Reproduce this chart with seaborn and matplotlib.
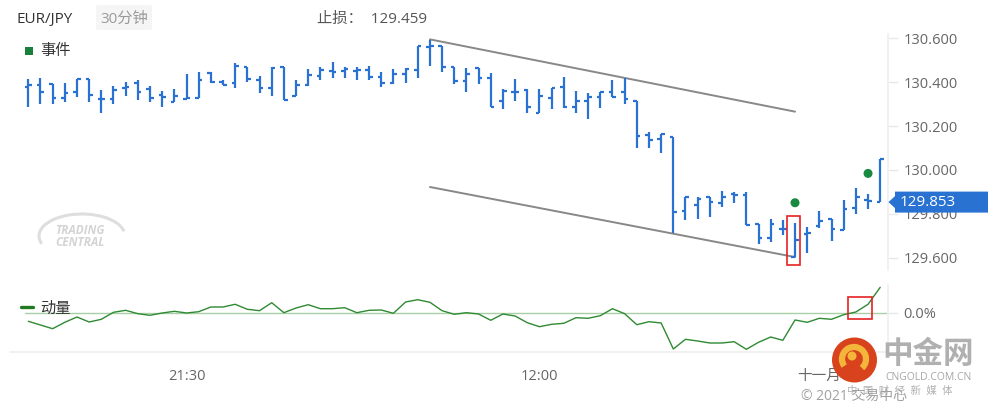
import matplotlib
matplotlib.use("Agg")
import matplotlib.pyplot as plt
import matplotlib.patches as mpatches
import matplotlib.transforms as mtransforms
import numpy as np
import seaborn as sns

# ---------------- data ----------------
symbol = "EUR/JPY"
timeframe = "30分钟"
stop_loss = 129.459
last_price = 129.853

opens = [130.377, 130.389, 130.391, 130.327, 130.354, 130.415, 130.325, 130.325, 130.375, 130.395,
         130.369, 130.343, 130.310, 130.322, 130.327, 130.444, 130.400, 130.395, 130.471, 130.411,
         130.375, 130.469, 130.336, 130.388, 130.427, 130.452, 130.452, 130.453, 130.455, 130.426,
         130.397, 130.439, 130.456, 130.561, 130.567, 130.471, 130.405, 130.464, 130.418, 130.313,
         130.354, 130.366, 130.258, 130.327, 130.379, 130.289, 130.316, 130.334, 130.354, 130.354,
         130.313, 130.159, 130.141, 130.149, 129.814, 129.838, 129.875, 129.848, 129.890, 129.885,
         129.753, 129.688, 129.732, 129.601, 129.707, 129.744, 129.777, 129.726, 129.825, 129.863,
         129.853]
highs = [130.415, 130.418, 130.391, 130.395, 130.415, 130.415, 130.365, 130.383, 130.400, 130.411,
         130.383, 130.360, 130.369, 130.437, 130.446, 130.446, 130.411, 130.487, 130.471, 130.430,
         130.471, 130.469, 130.411, 130.461, 130.469, 130.491, 130.469, 130.469, 130.473, 130.446,
         130.461, 130.465, 130.567, 130.593, 130.567, 130.471, 130.464, 130.464, 130.441, 130.368,
         130.415, 130.371, 130.368, 130.373, 130.423, 130.359, 130.350, 130.357, 130.411, 130.418,
         130.313, 130.174, 130.163, 130.149, 129.878, 129.878, 129.875, 129.905, 129.900, 129.900,
         129.753, 129.776, 129.771, 129.756, 129.738, 129.814, 129.777, 129.863, 129.916, 129.890,
         130.048]
lows = [130.289, 130.300, 130.300, 130.309, 130.334, 130.309, 130.258, 130.300, 130.339, 130.319,
        130.309, 130.289, 130.310, 130.322, 130.327, 130.395, 130.388, 130.373, 130.403, 130.350,
        130.339, 130.318, 130.336, 130.385, 130.409, 130.418, 130.421, 130.409, 130.409, 130.380,
        130.391, 130.398, 130.418, 130.476, 130.448, 130.392, 130.357, 130.391, 130.286, 130.279,
        130.316, 130.258, 130.258, 130.279, 130.283, 130.258, 130.231, 130.281, 130.332, 130.301,
        130.099, 130.100, 130.079, 129.711, 129.771, 129.777, 129.786, 129.829, 129.848, 129.748,
        129.660, 129.672, 129.703, 129.601, 129.619, 129.733, 129.677, 129.726, 129.799, 129.820,
        129.853]
closes = [130.388, 130.356, 130.327, 130.353, 130.414, 130.341, 130.322, 130.365, 130.380, 130.357,
          130.327, 130.334, 130.336, 130.327, 130.411, 130.403, 130.388, 130.476, 130.414, 130.373,
          130.467, 130.318, 130.388, 130.433, 130.458, 130.448, 130.459, 130.455, 130.426, 130.398,
          130.437, 130.461, 130.567, 130.567, 130.469, 130.405, 130.437, 130.418, 130.289, 130.359,
          130.357, 130.286, 130.337, 130.373, 130.289, 130.313, 130.332, 130.354, 130.334, 130.322,
          130.155, 130.137, 130.163, 129.809, 129.875, 129.866, 129.853, 129.878, 129.887, 129.748,
          129.688, 129.753, 129.732, 129.680, 129.711, 129.768, 129.729, 129.820, 129.875, 129.858,
          130.048]
momentum = [-0.088, -0.125, -0.162, -0.098, -0.045, -0.095, -0.068, 0.002, 0.022, -0.012,
            -0.028, -0.005, 0.012, -0.005, 0.008, 0.055, 0.055, 0.082, 0.032, 0.018,
            0.098, -0.002, 0.045, 0.078, 0.038, 0.038, 0.048, -0.002, 0.022, 0.025,
            -0.008, 0.105, 0.128, 0.102, 0.018, -0.018, -0.002, -0.015, -0.078, -0.015,
            -0.035, -0.102, -0.142, -0.118, -0.108, -0.052, -0.058, -0.032, 0.038, -0.012,
            -0.122, -0.092, -0.105, -0.365, -0.268, -0.285, -0.305, -0.305, -0.292, -0.368,
            -0.298, -0.245, -0.278, -0.075, -0.098, -0.058, -0.068, -0.022, 0.005, 0.082,
            0.252]

event_bars = [63, 69]
event_prices = [129.850, 129.984]
channel_bars = [33, 63]
channel_upper = [130.596, 130.266]
channel_lower = [129.922, 129.602]
price_ticks = [129.6, 129.8, 130.0, 130.2, 130.4, 130.6]
time_tick_bars = [13, 42, 65]
time_tick_labels = ["21:30", "12:00", "十一月"]
highlight_price = (62.35, 63.42, 129.565, 129.790)
highlight_momentum = (67.35, 69.33, -0.068, 0.152)

# ---------------- style ----------------
sns.set_theme(style="white")
plt.rcParams["font.family"] = ["Open Sans", "Noto Sans CJK SC", "DejaVu Sans"]

BAR = "#2a72d2"
GREEN = "#2f8a33"
W, H = 988, 409

fig = plt.figure(figsize=(W / 100, H / 100), dpi=100)
fig.patch.set_facecolor("white")


def fx(x):
    return x / W


def fy(y):
    return 1 - y / H


def axes_rect(x0, y0, x1, y1):
    return [fx(x0), fy(y1), (x1 - x0) / W, (y1 - y0) / H]


idx = np.arange(len(opens))

# ---------------- price panel ----------------
ax = fig.add_axes(axes_rect(10, 34, 888, 270))
ax.set_facecolor("none")
ax.set_xlim(-1.504, 70.64)
ax.set_ylim(129.543, 130.6205)

ax.vlines(idx, lows, highs, color=BAR, lw=1.6, zorder=3)
ax.hlines(opens, idx - 0.3, idx, color=BAR, lw=1.6, zorder=3)
ax.hlines(closes, idx, idx + 0.3, color=BAR, lw=1.6, zorder=3)

ax.plot(channel_bars, channel_upper, color="#888888", lw=1.4, zorder=2)
ax.plot(channel_bars, channel_lower, color="#888888", lw=1.4, zorder=2)

sns.scatterplot(x=event_bars, y=event_prices, ax=ax, color="#178a3f", s=42,
                edgecolor="none", zorder=4, legend=False)

x0, x1, y0, y1 = highlight_price
ax.add_patch(mpatches.Rectangle((x0, y0), x1 - x0, y1 - y0, fill=False,
                                ec="#e52222", lw=1.2, zorder=5))

for s in ["left", "top", "bottom"]:
    ax.spines[s].set_visible(False)
ax.spines["right"].set_color("#f0f0f0")
ax.yaxis.tick_right()
ax.set_yticks(price_ticks)
ax.set_yticklabels([f"{v:.3f}" for v in price_ticks])
ax.tick_params(axis="y", length=7, width=1, color="#e8e8e8",
               labelcolor="#666666", labelsize=10.5, pad=4)
ax.set_xticks([])
ax.set_xlabel("")
ax.set_ylabel("")

# last price tag on the right axis
blend = mtransforms.blended_transform_factory(fig.transFigure, ax.transData)
hh = 10.5 / 219
ah = 6 / 219
tag = mpatches.Polygon(
    [(fx(888.5), last_price), (fx(895), last_price + ah), (fx(895), last_price + hh),
     (fx(988), last_price + hh), (fx(988), last_price - hh), (fx(895), last_price - hh),
     (fx(895), last_price - ah)],
    closed=True, transform=blend, fc="#2a72d2", ec="none", zorder=10, clip_on=False)
fig.patches.append(tag)
tag_text = fig.text(fx(900), 0, f"{last_price:.3f}", transform=blend, color="white",
                    fontsize=11, va="center", ha="left", zorder=11)
tag_text.set_y(last_price)

# ---------------- momentum panel ----------------
axm = fig.add_axes(axes_rect(10, 285, 888, 352))
axm.set_facecolor("none")
axm.set_xlim(-1.504, 70.64)
axm.set_ylim(-0.395, 0.275)
axm.axhline(0, xmin=15 / 878, xmax=1, color="#a8d0a6", lw=1, zorder=1)
sns.lineplot(x=idx, y=momentum, ax=axm, color=GREEN, linewidth=1.0, zorder=3)

x0, x1, y0, y1 = highlight_momentum
axm.add_patch(mpatches.Rectangle((x0, y0), x1 - x0, y1 - y0, fill=False,
                                 ec="#e52222", lw=1.2, zorder=5))

for s in ["left", "top"]:
    axm.spines[s].set_visible(False)
axm.spines["right"].set_color("#f0f0f0")
axm.spines["bottom"].set_color("#efefef")
axm.yaxis.tick_right()
axm.set_yticks([0.0])
axm.set_yticklabels(["0.0%"])
axm.tick_params(axis="y", length=7, width=1, color="#e8e8e8",
                labelcolor="#666666", labelsize=10.5, pad=4)
axm.set_xticks(time_tick_bars)
axm.set_xticklabels(time_tick_labels)
axm.tick_params(axis="x", length=8, width=1, color="#efefef",
                labelcolor="#666666", labelsize=10.5, pad=4)
axm.set_xlabel("")
axm.set_ylabel("")

# ---------------- header & legends ----------------
fig.text(fx(17), fy(19), symbol, fontsize=11, color="#333333", va="center", ha="left")
fig.patches.append(mpatches.FancyBboxPatch(
    (fx(96), fy(30)), fx(56), 25 / H, boxstyle="round,pad=0,rounding_size=0.004",
    transform=fig.transFigure, fc="#f5f5f5", ec="none", zorder=1))
fig.text(fx(124), fy(19), timeframe, fontsize=11, color="#9a9a9a", va="center", ha="center")
fig.text(fx(317), fy(19), f"止损：  {stop_loss:.3f}", fontsize=11, color="#555555",
         va="center", ha="left")

fig.patches.append(mpatches.Rectangle((fx(25), fy(55)), fx(8), 8 / H,
                                      transform=fig.transFigure, fc="#1a7f3a", ec="none"))
fig.text(fx(40), fy(51), "事件", fontsize=11, color="#333333", va="center", ha="left")
fig.lines.append(plt.Line2D([fx(21), fx(33)], [fy(306.5), fy(306.5)],
                            transform=fig.transFigure, color="#1f7a22", lw=2.4))
fig.text(fx(40), fy(309), "动量", fontsize=11, color="#333333", va="center", ha="left")

# ---------------- watermarks ----------------
fig.text(fx(80), fy(230), "TRADING", fontsize=8.5, fontweight="bold", color="#d4d4d4",
         ha="center", va="center", fontstyle="italic")
fig.text(fx(80), fy(243), "CENTRAL", fontsize=8.5, fontweight="bold", color="#d4d4d4",
         ha="center", va="center", fontstyle="italic")
fig.patches.append(mpatches.Arc((fx(82), fy(236)), fx(86), 44 / H, theta1=15, theta2=205,
                                transform=fig.transFigure, color="#dedede", lw=2.2))

# logo
fig.patches.append(mpatches.Ellipse((fx(854.5), fy(360)), fx(45), 45 / H,
                                    transform=fig.transFigure, fc="#d8431d", ec="none", zorder=5))
fig.patches.append(mpatches.Arc((fx(854), fy(359)), fx(24), 24 / H, theta1=-70, theta2=240,
                                transform=fig.transFigure, color="#f3b63a", lw=4.5, zorder=6))
fig.patches.append(mpatches.Ellipse((fx(852), fy(356)), fx(9), 9 / H,
                                    transform=fig.transFigure, fc="#f3b63a", ec="none", zorder=6))
fig.text(fx(928), fy(355), "中金网", fontsize=22, fontweight="bold", color="#b0b0b0",
         ha="center", va="center", zorder=6)
fig.text(fx(928), fy(378), "CNGOLD.COM.CN", fontsize=7.5, color="#a6a6a6",
         ha="center", va="center", zorder=6)
fig.text(fx(900), fy(391), "中  国  财  经  新  媒  体", fontsize=7.5, color="#b0b0b0",
         ha="center", va="center", zorder=6)
fig.text(fx(801), fy(396), "© 2021 交易中心", fontsize=10, color="#a0a0a0",
         ha="left", va="center", zorder=7)

fig.savefig("out.png", dpi=100)
